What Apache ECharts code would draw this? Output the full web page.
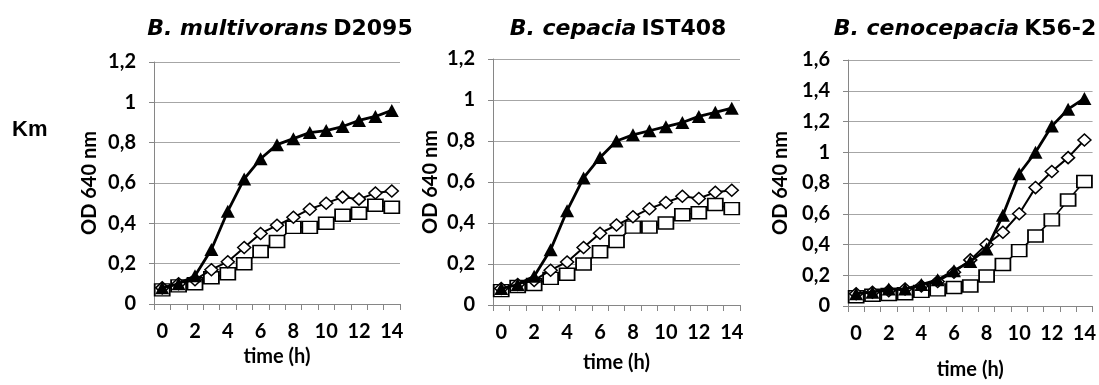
<!DOCTYPE html>
<html>
<head>
<meta charset="utf-8">
<script src="https://cdn.jsdelivr.net/npm/echarts@6/dist/echarts.min.js"></script>
<style>
html,body{margin:0;padding:0;background:#fff;}
#c{width:1099px;height:385px;}
</style>
</head>
<body>
<div id="c"></div>
<script>
// ---- data ----
const hours = ['0','1','2','3','4','5','6','7','8','9','10','11','12','13','14'];
const titles = [['B. multivorans','D2095'],['B. cepacia','IST408'],['B. cenocepacia','K56-2']];
const yLabelsA = ['0','0,2','0,4','0,6','0,8','1','1,2'];
const yLabelsB = ['0','0,2','0,4','0,6','0,8','1','1,2','1,4','1,6'];

const multTri = [0.08,0.10,0.14,0.27,0.46,0.62,0.72,0.79,0.82,0.85,0.86,0.88,0.91,0.93,0.96];
const multDia = [0.08,0.10,0.12,0.17,0.21,0.28,0.35,0.39,0.43,0.47,0.50,0.53,0.52,0.55,0.56];
const multSq  = [0.07,0.09,0.10,0.13,0.15,0.20,0.26,0.31,0.38,0.38,0.40,0.44,0.45,0.49,0.48];

const cepTri = [0.08,0.10,0.14,0.27,0.46,0.62,0.72,0.80,0.83,0.85,0.87,0.89,0.92,0.94,0.96];
const cepDia = [0.08,0.10,0.12,0.17,0.21,0.28,0.35,0.39,0.43,0.47,0.50,0.53,0.52,0.55,0.56];
const cepSq  = [0.07,0.09,0.10,0.13,0.15,0.20,0.26,0.31,0.38,0.38,0.40,0.44,0.45,0.49,0.47];

const cenoTri = [0.08,0.09,0.11,0.11,0.14,0.17,0.23,0.29,0.37,0.59,0.86,1.00,1.17,1.28,1.35];
const cenoDia = [0.08,0.09,0.10,0.11,0.13,0.16,0.22,0.30,0.40,0.48,0.60,0.77,0.875,0.965,1.08];
const cenoSq  = [0.06,0.07,0.075,0.08,0.095,0.105,0.12,0.13,0.195,0.27,0.36,0.455,0.56,0.69,0.81];

// ---- layout ----
const grids = [
  {left:154, top:62, width:246, height:242},
  {left:493, top:59, width:247, height:246},
  {left:848, top:60, width:245, height:256}
];
const yMax = [1.2, 1.2, 1.6];
const yLab = [yLabelsA, yLabelsA, yLabelsB];
const xNameGap = [40, 48, 54];
const yNameGap = [54, 52, 57];
const titleX = [275, 613, 960];
const panels = [[multTri,multDia,multSq],[cepTri,cepDia,cepSq],[cenoTri,cenoDia,cenoSq]];

const AX = '#868686', GR = '#A6A6A6';
const lblFont = {fontFamily:'Lato', fontWeight:'bold', fontSize:20, color:'#000'};

const option = {
  backgroundColor:'#fff',
  animation:false,
  title: titles.map((t,i)=>({
    text:'{i|'+t[0]+'} {b|'+t[1]+'}',
    left:titleX[i], top:13, textAlign:'center',
    textStyle:{
      rich:{
        i:{fontFamily:'DejaVu Sans', fontWeight:'bold', fontStyle:'italic', fontSize:22, color:'#000'},
        b:{fontFamily:'DejaVu Sans', fontWeight:'bold', fontSize:22, color:'#000'}
      }
    }
  })),
  graphic:[{type:'text', left:12, top:119, style:{text:'Km', font:'bold 22px "Liberation Sans"', fill:'#000'}}],
  grid: grids,
  xAxis: grids.map((g,i)=>({
    gridIndex:i, type:'category', data:hours, boundaryGap:true,
    axisLine:{lineStyle:{color:AX, width:1}},
    axisTick:{show:true, interval:0, length:6, lineStyle:{color:AX}},
    axisLabel:Object.assign({interval:1, margin:18}, lblFont),
    splitLine:{show:false},
    name:'time (h)', nameLocation:'middle', nameGap:xNameGap[i],
    nameTextStyle:lblFont
  })),
  yAxis: grids.map((g,i)=>({
    gridIndex:i, type:'value', min:0, max:yMax[i], interval:0.2,
    axisLine:{show:true, lineStyle:{color:AX, width:1}},
    axisTick:{show:true, length:5, lineStyle:{color:AX}},
    splitLine:{show:true, lineStyle:{color:GR, width:1}},
    axisLabel:Object.assign({margin:18, formatter:v=>yLab[i][Math.round(v/0.2)]}, lblFont),
    name:'OD 640 nm', nameLocation:'middle', nameGap:yNameGap[i],
    nameTextStyle:lblFont
  })),
  series: []
};

panels.forEach((p,i)=>{
  option.series.push({
    type:'line', xAxisIndex:i, yAxisIndex:i, data:p[2],
    symbol:'rect', symbolSize:[15,12], showAllSymbol:true,
    lineStyle:{color:'#000', width:1.6},
    itemStyle:{color:'#fff', borderColor:'#000', borderWidth:1.6},
    z:2
  });
  option.series.push({
    type:'line', xAxisIndex:i, yAxisIndex:i, data:p[1],
    symbol:'diamond', symbolSize:[13,12], showAllSymbol:true,
    lineStyle:{color:'#000', width:2},
    itemStyle:{color:'#fff', borderColor:'#000', borderWidth:1.5},
    z:3
  });
  option.series.push({
    type:'line', xAxisIndex:i, yAxisIndex:i, data:p[0],
    symbol:'triangle', symbolSize:[14,13], showAllSymbol:true,
    lineStyle:{color:'#000', width:2.8},
    itemStyle:{color:'#000', borderColor:'#000', borderWidth:0},
    z:4
  });
});

const chart = echarts.init(document.getElementById('c'), null, {renderer:'canvas'});
chart.setOption(option);
</script>
</body>
</html>
